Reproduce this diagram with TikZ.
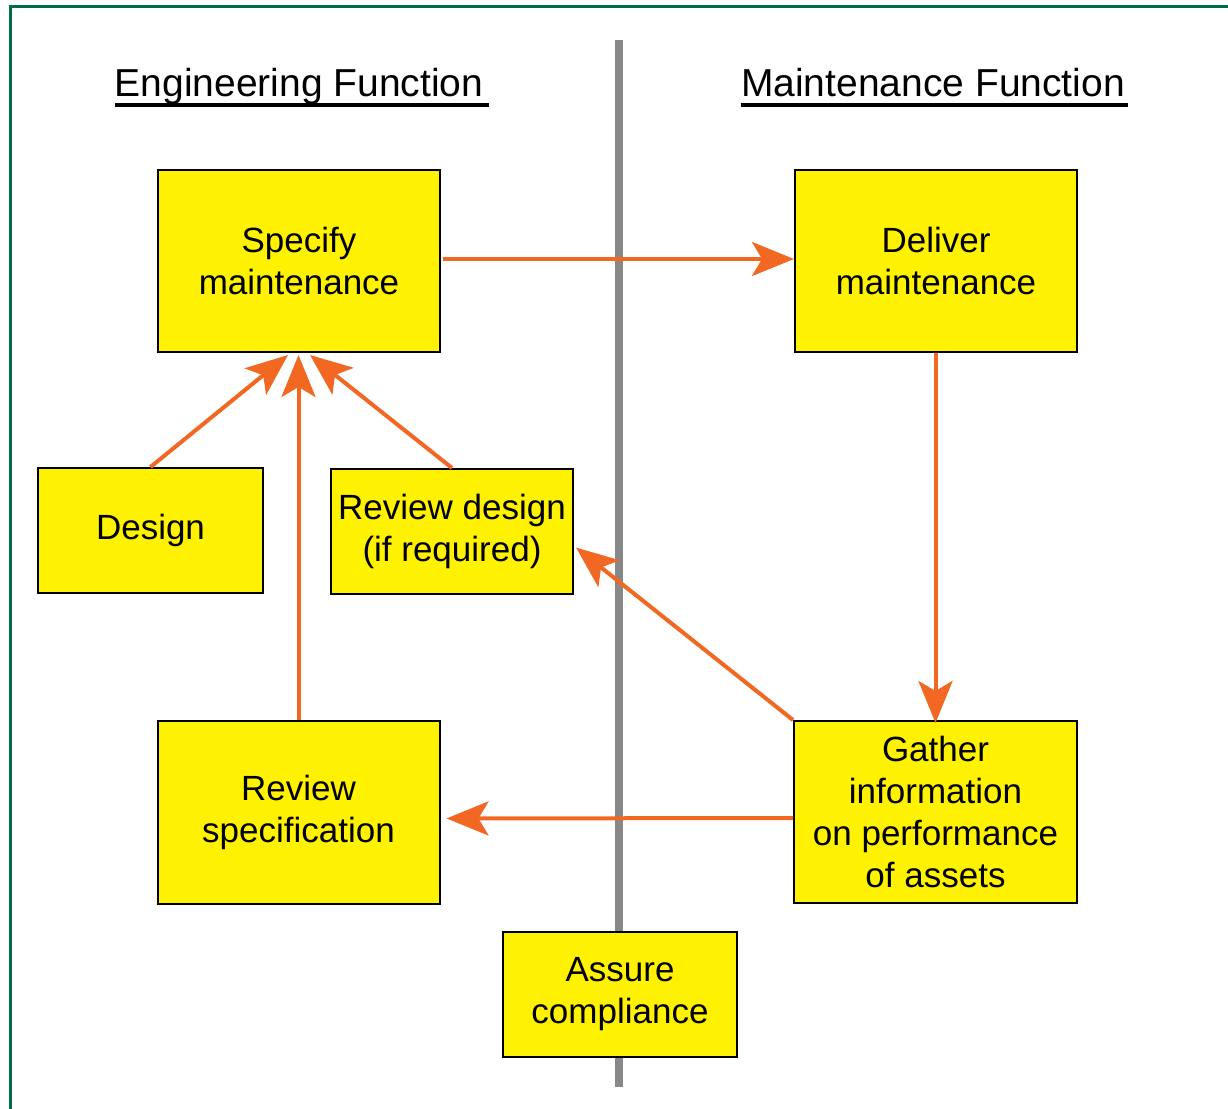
\documentclass[tikz,border=0pt]{standalone}
\usepackage{fontspec}
\setmainfont{Liberation Sans}
\usetikzlibrary{arrows.meta}
\definecolor{boxyellow}{RGB}{255,242,0}
\definecolor{arrorange}{RGB}{242,104,34}
\definecolor{frameGreen}{RGB}{0,110,70}
\definecolor{divgray}{RGB}{136,136,136}
\begin{document}
\begin{tikzpicture}[x=1pt,y=-1pt,
  box/.style={draw=black,line width=2pt,fill=boxyellow,align=center,inner sep=0pt,
    font=\fontsize{35}{42}\selectfont},
  flow/.style={draw=arrorange,line width=4pt,
    -{Stealth[length=42pt,width=34pt,inset=10pt]}},
  heading/.style={inner sep=0pt,font=\fontsize{39}{46}\selectfont,anchor=base}]
\useasboundingbox (0,0) rectangle (1228,1108);
% frame
\draw[frameGreen,line width=3pt] (10,1115) -- (10,7) -- (1235,7);
% divider
\coordinate (dtop) at (619,40);
\coordinate (dbot) at (619,1087);
\draw[divgray,line width=8pt] (dtop) -- (dbot);
% headings
\node[heading] (eh) at (299,96) {Engineering Function};
\node[heading] (mh) at (933,96) {Maintenance Function};
\draw[line width=4pt] ([yshift=-9pt]eh.base west) -- ([yshift=-9pt,xshift=6pt]eh.base east);
\draw[line width=4pt] ([yshift=-9pt]mh.base west) -- ([yshift=-9pt,xshift=3pt]mh.base east);
% boxes
\node[box,minimum width=282pt,minimum height=182pt] (s) at (299,261) {Specify\\maintenance};
\node[box,minimum width=282pt,minimum height=182pt] (d) at (936,261) {Deliver\\maintenance};
\node[box,minimum width=225pt,minimum height=125pt] (dz) at (150.5,530.5) {Design};
\node[box,minimum width=242pt,minimum height=125pt] (rd) at (452,531.5) {Review design\\(if required)};
\node[box,minimum width=282pt,minimum height=183pt] (rs) at (298.5,812.5) {Review\\specification};
\node[box,minimum width=283pt,minimum height=182pt] (g) at (935.5,812) {Gather\\information\\on performance\\of assets};
\node[box,minimum width=234pt,minimum height=125pt] (a) at (620,994.5) {Assure\\compliance};
% arrows
\draw[flow,shorten <=2pt] ([yshift=2pt]s.east) -- ([yshift=2pt]d.west);
\draw[flow] (g.north |- d.south) -- ([yshift=-3pt]g.north);
\draw[flow,shorten >=6pt] ([yshift=-6pt]g.west) -- ([yshift=-6pt]rs.east);
\draw[flow] (g.north west) -- ([yshift=-16pt,xshift=2pt]rd.east);
\draw[flow] (dz.north) -- ([xshift=-11pt,yshift=-2pt]s.south);
\draw[flow] (rd.north) -- ([xshift=11pt,yshift=-2pt]s.south);
\draw[flow] (rs.north) -- ([yshift=-2pt]rs.north |- s.south);
\end{tikzpicture}
\end{document}
